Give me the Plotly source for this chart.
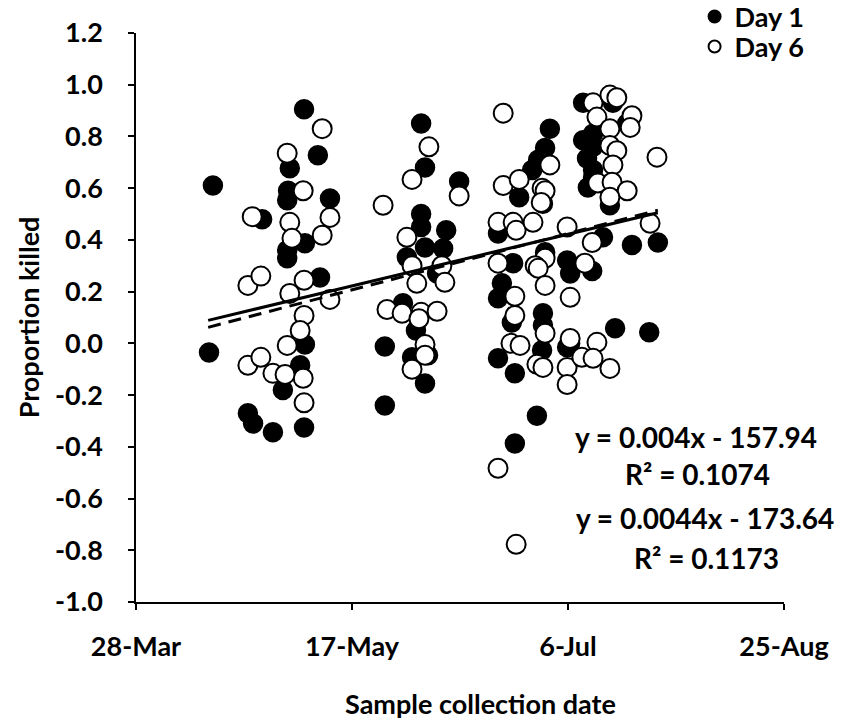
import pandas as pd
import plotly.graph_objects as go

BASE = "2013-03-28"  # first x tick (28-Mar)

# ---- Day 1 (filled): days after 28-Mar, proportion killed ----
day1_days = [16.9, 17.8, 38.9, 42.1, 35.6, 35.2, 35.0, 29.2, 39.1, 35.0, 35.0, 42.6, 38.0, 39.1,
             34.0, 25.9, 27.1, 31.7, 38.9, 44.9,
             66.0, 66.9, 74.8, 66.0, 66.0, 71.8, 66.9, 71.1, 62.7, 69.7, 61.8, 64.8, 57.6, 67.6,
             63.9, 66.9, 57.6,
             95.8, 94.7, 93.1, 91.7, 88.7, 94.2, 83.8, 94.7, 99.8, 87.3, 84.7, 83.8, 87.0, 94.2,
             94.2, 100.5, 94.0, 83.8, 87.7, 92.8, 87.7, 100.5,
             103.5, 110.4, 113.7, 103.5, 105.8, 105.8, 104.4, 105.8, 105.8, 104.6, 109.7, 108.1,
             114.8, 120.8, 105.6, 110.9, 118.8, 99.8]
day1_vals = [-0.035, 0.61, 0.905, 0.727, 0.677, 0.59, 0.553, 0.48, 0.387, 0.36, 0.329, 0.255, -0.085, -0.004,
             -0.18, -0.27, -0.31, -0.344, -0.325, 0.56,
             0.85, 0.68, 0.626, 0.50, 0.45, 0.437, 0.371, 0.367, 0.333, 0.27, 0.155, 0.05, -0.012, -0.046,
             -0.054, -0.155, -0.24,
             0.83, 0.755, 0.71, 0.67, 0.565, 0.54, 0.425, 0.352, 0.32, 0.31, 0.232, 0.174, 0.081, 0.116,
             0.07, 0.0, -0.027, -0.058, -0.116, -0.28, -0.387, 0.27,
             0.93, 0.93, 0.85, 0.785, 0.81, 0.76, 0.715, 0.67, 0.64, 0.603, 0.534, 0.41,
             0.38, 0.39, 0.28, 0.058, 0.043, -0.015]

# ---- Day 6 (open): days after 28-Mar, proportion killed ----
day6_days = [26.9, 35.0, 43.1, 38.7, 35.6, 36.1, 44.9, 43.1, 25.9, 28.9, 38.9, 35.6, 38.9, 38.0,
             35.0, 25.9, 28.9, 31.7, 38.7, 34.5, 38.9, 44.9,
             57.2, 67.8, 63.9, 74.8, 62.7, 63.9, 70.8, 65.0, 71.5, 58.1, 61.6, 66.0, 69.7, 65.5,
             66.9, 66.9, 63.9,
             85.0, 95.8, 85.0, 88.7, 94.0, 94.7, 93.8, 83.8, 87.3, 88.0, 91.9, 99.8, 94.7, 83.8,
             92.4, 93.1, 94.7, 87.7, 100.5, 87.7, 94.7, 86.8, 88.9, 100.5, 92.8, 94.2, 99.8, 99.8,
             83.8, 88.0,
             105.8, 109.7, 111.3, 106.7, 114.8, 109.7, 114.4, 109.7, 111.3, 120.6, 110.4, 106.9,
             110.2, 113.7, 109.7, 119.0, 105.6, 103.9, 106.7, 103.2, 105.8, 109.7]
day6_vals = [0.49, 0.735, 0.83, 0.59, 0.468, 0.406, 0.487, 0.418, 0.224, 0.26, 0.244, 0.193, 0.108, 0.05,
             -0.008, -0.085, -0.054, -0.116, -0.135, -0.12, -0.23, 0.17,
             0.534, 0.76, 0.634, 0.57, 0.41, 0.30, 0.30, 0.232, 0.236, 0.131, 0.116, 0.12, 0.124, 0.095,
             -0.004, -0.046, -0.10,
             0.89, 0.69, 0.61, 0.634, 0.60, 0.59, 0.545, 0.468, 0.468, 0.437, 0.468, 0.45, 0.329, 0.31,
             0.30, 0.29, 0.224, 0.182, 0.178, 0.108, 0.039, 0.0, -0.008, 0.019, -0.081, -0.093, -0.093, -0.159,
             -0.483, -0.777,
             0.93, 0.96, 0.95, 0.875, 0.88, 0.83, 0.835, 0.765, 0.745, 0.72, 0.69, 0.62,
             0.623, 0.59, 0.565, 0.464, 0.39, 0.31, 0.004, -0.054, -0.058, -0.097]

# ---- linear trend lines (start/end) ----
trend_days = [16.7, 120.8]
day1_trend = [0.089, 0.505]
day6_trend = [0.062, 0.515]

x_tick_days = [0, 50, 100, 150]
x_tick_text = ["28-Mar", "17-May", "6-Jul", "25-Aug"]
y_tick_vals = [-1.0, -0.8, -0.6, -0.4, -0.2, 0.0, 0.2, 0.4, 0.6, 0.8, 1.0, 1.2]
y_tick_text = ["-1.0", "-0.8", "-0.6", "-0.4", "-0.2", "0.0", "0.2", "0.4", "0.6", "0.8", "1.0", "1.2"]
eq_texts = ["y = 0.004x - 157.94", "R² = 0.1074", "y = 0.0044x - 173.64", "R² = 0.1173"]
x_title = "Sample collection date"
y_title = "Proportion killed"

base = pd.Timestamp(BASE)
def to_date(days):
    return [base + pd.Timedelta(days=float(d)) for d in days]

FONT = "Lato"
FS = 27
PLOT_L, PLOT_W = 136, 648
PLOT_TOP, PLOT_H = 33, 569
def py(px):  # paper y for a pixel row
    return (PLOT_TOP + PLOT_H - px) / PLOT_H
def pxp(px):  # paper x for a pixel column
    return (px - PLOT_L) / PLOT_W

fig = go.Figure()

fig.add_trace(go.Scatter(x=to_date(day1_days), y=day1_vals, mode="markers", name="Day 1",
                         legend="legend",
                         marker=dict(size=19, color="black", line=dict(color="black", width=1.5))))
fig.add_trace(go.Scatter(x=to_date(day6_days), y=day6_vals, mode="markers", name="Day 6",
                         legend="legend2",
                         marker=dict(size=19, color="white", line=dict(color="black", width=2))))

for vals, dash in [(day1_trend, "solid"), (day6_trend, "13px,8px")]:
    fig.add_trace(go.Scatter(x=to_date(trend_days), y=vals, mode="lines",
                             line=dict(color="black", width=3, dash=dash), showlegend=False,
                             hoverinfo="skip"))

ann_pos = [(696, 437), (697, 474), (705, 518), (706, 558)]
for txt, (xp, yp) in zip(eq_texts, ann_pos):
    fig.add_annotation(text=txt, xref="paper", yref="paper", x=pxp(xp), y=py(yp),
                       showarrow=False, font=dict(family=FONT, size=28, color="black", weight="bold"),
                       xanchor="center", yanchor="middle")

fig.add_annotation(text=x_title, xref="paper", yref="paper", x=pxp(480), y=py(703),
                   showarrow=False, font=dict(family=FONT, size=FS, color="black", weight="bold"),
                   xanchor="center", yanchor="middle")

leg_common = dict(x=0.862, xanchor="left", yanchor="middle", bgcolor="rgba(0,0,0,0)",
                  font=dict(family=FONT, size=FS, weight="bold"), itemsizing="constant",
                  itemwidth=30)

fig.update_layout(
    width=844, height=721,
    margin=dict(l=PLOT_L, r=844 - PLOT_L - PLOT_W, t=PLOT_TOP, b=721 - PLOT_TOP - PLOT_H,
                autoexpand=False),
    paper_bgcolor="white", plot_bgcolor="white",
    font=dict(family=FONT, size=FS, color="black", weight="bold"),
    legend=dict(y=py(17), **leg_common),
    legend2=dict(y=py(47), **leg_common),
    xaxis=dict(type="date", range=[base, base + pd.Timedelta(days=150)],
               tickvals=to_date(x_tick_days), ticktext=x_tick_text,
               showgrid=False, zeroline=False, showline=True, linecolor="black", linewidth=1.5,
               ticks="outside", ticklen=6, tickwidth=1.5, tickcolor="black",
               ticklabelstandoff=14,
               tickfont=dict(family=FONT, size=FS, weight="bold")),
    yaxis=dict(range=[-1.0, 1.2], tickvals=y_tick_vals, ticktext=y_tick_text,
               showgrid=False, zeroline=False, showline=True, linecolor="black", linewidth=1.5,
               ticks="outside", ticklen=6, tickwidth=1.5, tickcolor="black",
               ticklabelstandoff=20,
               title=dict(text=y_title, standoff=8,
                          font=dict(family=FONT, size=FS, weight="bold")),
               tickfont=dict(family=FONT, size=FS, weight="bold")),
)

fig.write_html("out.html")
